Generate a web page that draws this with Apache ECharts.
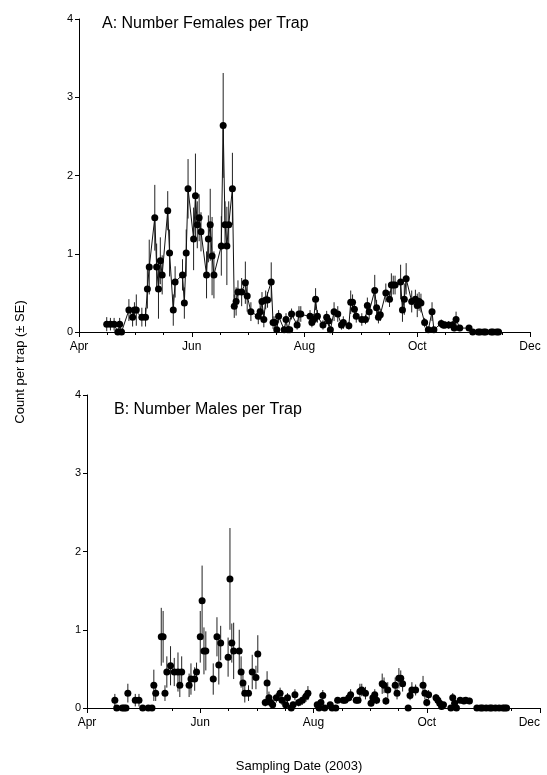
<!DOCTYPE html>
<html>
<head>
<meta charset="utf-8">
<script src="https://cdn.jsdelivr.net/npm/echarts@6/dist/echarts.min.js"></script>
<style>
html,body{margin:0;padding:0;background:#fff;}
#chart{width:547px;height:775px;}
</style>
</head>
<body>
<div id="chart"></div>
<script>
// ---- Data (2003 sampling dates, MM-DD) ----
const monthLabels = ['Apr', 'Jun', 'Aug', 'Oct', 'Dec'];
const yTicks = [0, 1, 2, 3, 4];

const femaleDates = ['04-16','04-18','04-20','04-22','04-23','04-24','04-28','04-30','05-01','05-02',
 '05-05','05-07','05-08','05-09','05-12','05-13','05-14','05-15','05-16','05-19',
 '05-20','05-22','05-23','05-27','05-28','05-29','05-30','06-02','06-03','06-04',
 '06-05','06-06','06-09','06-10','06-11','06-12','06-13','06-17','06-18','06-19',
 '06-20','06-21','06-23','06-24','06-25','06-26','06-28','06-30','07-01','07-03',
 '07-07','07-08','07-09','07-10','07-11','07-12','07-14','07-15','07-16','07-17',
 '07-18','07-21','07-22','07-23','07-24','07-25','07-28','07-29','07-30','08-04',
 '08-05','08-06','08-07','08-08','08-11','08-13','08-14','08-15','08-17','08-19',
 '08-21','08-22','08-25','08-26','08-27','08-28','08-29','09-01','09-03','09-04',
 '09-05','09-08','09-09','09-10','09-11','09-14','09-16','09-17','09-18','09-19',
 '09-22','09-23','09-24','09-25','09-28','09-30','10-01','10-02','10-03','10-05',
 '10-07','10-09','10-10','10-14','10-15','10-16','10-18','10-20','10-21','10-22',
 '10-24','10-29','10-31','11-03','11-04','11-06','11-07','11-10','11-11','11-13','11-14'];
const femaleMean = [0.10,0.10,0.10,0.00,0.10,0.00,0.28,0.19,0.28,0.28,
 0.19,0.19,0.55,0.83,1.46,0.83,0.55,0.91,0.73,1.55,
 1.01,0.28,0.64,0.73,0.37,1.01,1.83,1.19,1.74,1.37,
 1.46,1.28,0.73,1.19,1.37,0.97,0.73,1.10,2.64,1.37,
 1.10,1.37,1.83,0.33,0.39,0.51,0.51,0.63,0.46,0.26,
 0.20,0.26,0.39,0.16,0.41,0.41,0.64,0.12,0.12,0.03,
 0.20,0.03,0.16,0.03,0.03,0.23,0.09,0.23,0.23,0.20,
 0.12,0.16,0.42,0.20,0.09,0.19,0.14,0.03,0.26,0.23,
 0.09,0.12,0.08,0.38,0.38,0.29,0.20,0.16,0.16,0.34,
 0.26,0.53,0.31,0.19,0.22,0.50,0.42,0.60,0.60,0.60,
 0.64,0.28,0.42,0.68,0.39,0.42,0.34,0.39,0.37,0.12,
 0.03,0.26,0.03,0.11,0.09,0.09,0.09,0.09,0.05,0.16,
 0.05,0.05,0.00,0.00,0.00,0.00,0.00,0.00,0.00,0.00,0.00];
const femaleSE = [0.09,0.08,0.08,0.00,0.08,0.00,0.14,0.12,0.10,0.20,
 0.12,0.12,0.25,0.35,0.42,0.30,0.38,0.30,0.25,0.25,
 0.30,0.20,0.20,0.20,0.20,0.30,0.38,0.40,0.54,0.30,
 0.30,0.25,0.30,0.30,0.46,0.50,0.30,0.38,0.67,0.30,
 0.50,0.30,0.46,0.15,0.18,0.15,0.18,0.27,0.20,0.12,
 0.10,0.10,0.12,0.10,0.12,0.10,0.25,0.08,0.08,0.04,
 0.08,0.04,0.08,0.04,0.04,0.07,0.06,0.10,0.10,0.08,
 0.06,0.07,0.14,0.08,0.06,0.08,0.07,0.03,0.12,0.10,
 0.06,0.08,0.05,0.15,0.10,0.10,0.08,0.08,0.06,0.10,
 0.10,0.20,0.10,0.08,0.08,0.12,0.10,0.15,0.12,0.12,
 0.22,0.15,0.20,0.20,0.14,0.12,0.15,0.12,0.12,0.06,
 0.03,0.12,0.03,0.05,0.05,0.05,0.05,0.05,0.04,0.10,
 0.04,0.03,0.00,0.00,0.00,0.00,0.00,0.00,0.00,0.00,0.00];

const maleDates = ['04-16','04-17','04-20','04-21','04-22','04-23','04-27','04-29','05-01','05-04',
 '05-06','05-07','05-08','05-11','05-12','05-13','05-14','05-16','05-18','05-20',
 '05-21','05-22','05-26','05-27','05-29','05-30','06-01','06-02','06-03','06-04',
 '06-08','06-10','06-11','06-12','06-16','06-17','06-18','06-19','06-22','06-23',
 '06-24','06-25','06-27','06-29','07-01','07-02','07-06','07-07','07-08','07-09',
 '07-10','07-12','07-14','07-15','07-17','07-18','07-20','07-21','07-22','07-24',
 '07-26','07-28','07-29','08-03','08-04','08-05','08-06','08-07','08-10','08-11',
 '08-13','08-14','08-17','08-18','08-20','08-21','08-24','08-25','08-26','08-27',
 '08-29','09-01','09-02','09-03','09-04','09-07','09-08','09-09','09-10','09-14',
 '09-15','09-16','09-17','09-18','09-21','09-22','09-23','09-25','09-29','09-30',
 '10-01','10-02','10-06','10-07','10-08','10-09','10-10','10-14','10-15','10-16',
 '10-17','10-19','10-21','10-22','10-24','10-28','10-30','10-31','11-02','11-04',
 '11-05','11-07','11-09','11-11','11-12','11-13'];
const maleMean = [0.10,0.00,0.00,0.00,0.00,0.19,0.10,0.10,0.00,0.00,
 0.00,0.29,0.19,0.91,0.91,0.19,0.46,0.54,0.46,0.46,
 0.29,0.46,0.29,0.37,0.37,0.46,0.91,1.37,0.73,0.73,
 0.37,0.91,0.55,0.83,0.65,1.65,0.83,0.73,0.73,0.46,
 0.32,0.19,0.19,0.46,0.39,0.69,0.07,0.32,0.13,0.07,
 0.04,0.13,0.19,0.10,0.04,0.13,0.00,0.04,0.17,0.07,
 0.10,0.15,0.19,0.04,0.00,0.07,0.16,0.00,0.04,0.00,
 0.00,0.10,0.10,0.10,0.13,0.17,0.10,0.10,0.21,0.23,
 0.19,0.06,0.13,0.17,0.10,0.31,0.29,0.09,0.23,0.29,
 0.19,0.38,0.38,0.31,0.00,0.16,0.23,0.23,0.29,0.19,
 0.07,0.17,0.13,0.10,0.06,0.02,0.04,0.00,0.13,0.06,
 0.00,0.10,0.09,0.10,0.09,0.00,0.00,0.00,0.00,0.00,
 0.00,0.00,0.00,0.00,0.00,0.00];
const maleSE = [0.08,0.00,0.00,0.00,0.00,0.12,0.08,0.08,0.00,0.00,
 0.00,0.20,0.10,0.37,0.33,0.10,0.20,0.25,0.18,0.25,
 0.15,0.20,0.15,0.20,0.15,0.12,0.33,0.45,0.30,0.25,
 0.20,0.25,0.25,0.22,0.25,0.65,0.25,0.36,0.27,0.20,
 0.15,0.12,0.10,0.22,0.15,0.24,0.05,0.15,0.08,0.05,
 0.04,0.06,0.07,0.06,0.04,0.06,0.00,0.04,0.07,0.05,
 0.06,0.07,0.09,0.03,0.00,0.04,0.07,0.00,0.03,0.00,
 0.00,0.04,0.04,0.04,0.05,0.07,0.04,0.04,0.10,0.08,
 0.08,0.04,0.05,0.07,0.05,0.13,0.10,0.05,0.10,0.10,
 0.08,0.13,0.10,0.10,0.00,0.06,0.10,0.07,0.12,0.08,
 0.05,0.06,0.05,0.04,0.04,0.02,0.03,0.00,0.06,0.04,
 0.00,0.04,0.04,0.04,0.04,0.00,0.00,0.00,0.00,0.00,
 0.00,0.00,0.00,0.00,0.00,0.00];

// ---- Build ----
const base = Date.UTC(2003, 3, 1);
function dayOffset(md) {
  const [m, d] = md.split('-').map(Number);
  return Math.round((Date.UTC(2003, m - 1, d) - base) / 864e5);
}
function points(dates, mean) { return dates.map((d, i) => [dayOffset(d), mean[i]]); }
function bars(dates, mean, se) {
  return dates.map((d, i) => [dayOffset(d), Math.max(0, mean[i] - se[i]), mean[i] + se[i]]);
}

const FONT = '"Liberation Sans", Arial, Helvetica, sans-serif';

function xAxisCfg(gi, alignMax) {
  return {
    gridIndex: gi, type: 'value', min: 0, max: 244, interval: 61,
    axisLine: { show: true, onZero: false, lineStyle: { color: '#000', width: 1 } },
    axisTick: { show: true, length: 5, lineStyle: { color: '#000' } },
    minorTick: { show: true, splitNumber: 4, length: 3, lineStyle: { color: '#000' } },
    splitLine: { show: false },
    axisLabel: { color: '#000', fontSize: 12, fontFamily: FONT, margin: 9,
      alignMaxLabel: alignMax,
      formatter: v => monthLabels[Math.round(v / 61)] || '' }
  };
}
function yAxisCfg(gi) {
  return {
    gridIndex: gi, type: 'value', min: yTicks[0], max: yTicks[yTicks.length - 1], interval: 1,
    axisLine: { show: true, lineStyle: { color: '#000', width: 1 } },
    axisTick: { show: true, length: 4, lineStyle: { color: '#000' } },
    splitLine: { show: false },
    axisLabel: { color: '#000', fontSize: 11, fontFamily: FONT, margin: 6 }
  };
}
function errSeries(xi, data) {
  return {
    type: 'custom', xAxisIndex: xi, yAxisIndex: xi, data: data, z: 1, silent: true,
    encode: { x: 0, y: [1, 2] },
    renderItem: function (params, api) {
      const p1 = api.coord([api.value(0), api.value(1)]);
      const p2 = api.coord([api.value(0), api.value(2)]);
      return { type: 'line', shape: { x1: p1[0], y1: p1[1], x2: p2[0], y2: p2[1] },
        style: { stroke: '#222', lineWidth: 1 } };
    }
  };
}

const chart = echarts.init(document.getElementById('chart'), null, { renderer: 'canvas' });
chart.setOption({
  backgroundColor: '#fff',
  animation: false,
  title: [
    { text: 'A: Number Females per Trap', left: 97, top: 11,
      textStyle: { fontSize: 16, fontWeight: 'normal', color: '#000', fontFamily: FONT } },
    { text: 'B: Number Males per Trap', left: 109, top: 397,
      textStyle: { fontSize: 16, fontWeight: 'normal', color: '#000', fontFamily: FONT } }
  ],
  grid: [
    { left: 79, top: 19, width: 451, height: 313, outerBoundsMode: 'none', containLabel: false },
    { left: 87, top: 395, width: 453, height: 313, outerBoundsMode: 'none', containLabel: false }
  ],
  xAxis: [xAxisCfg(0, 'center'), xAxisCfg(1, 'right')],
  yAxis: [yAxisCfg(0), yAxisCfg(1)],
  graphic: [
    { type: 'text', x: 20, y: 362, rotation: Math.PI / 2,
      style: { text: 'Count per trap (± SE)', fontSize: 13, fontFamily: FONT, fill: '#000',
        align: 'center', verticalAlign: 'middle' } },
    { type: 'text', x: 299, y: 766,
      style: { text: 'Sampling Date (2003)', fontSize: 13, fontFamily: FONT, fill: '#000',
        align: 'center', verticalAlign: 'middle' } }
  ],
  series: [
    errSeries(0, bars(femaleDates, femaleMean, femaleSE)),
    { type: 'line', xAxisIndex: 0, yAxisIndex: 0, data: points(femaleDates, femaleMean), z: 3,
      symbol: 'circle', symbolSize: 7, showSymbol: true,
      lineStyle: { color: '#111', width: 1 }, itemStyle: { color: '#000' } },
    errSeries(1, bars(maleDates, maleMean, maleSE)),
    { type: 'scatter', xAxisIndex: 1, yAxisIndex: 1, data: points(maleDates, maleMean), z: 3,
      symbol: 'circle', symbolSize: 7, itemStyle: { color: '#000', opacity: 1 } }
  ]
});
</script>
</body>
</html>
